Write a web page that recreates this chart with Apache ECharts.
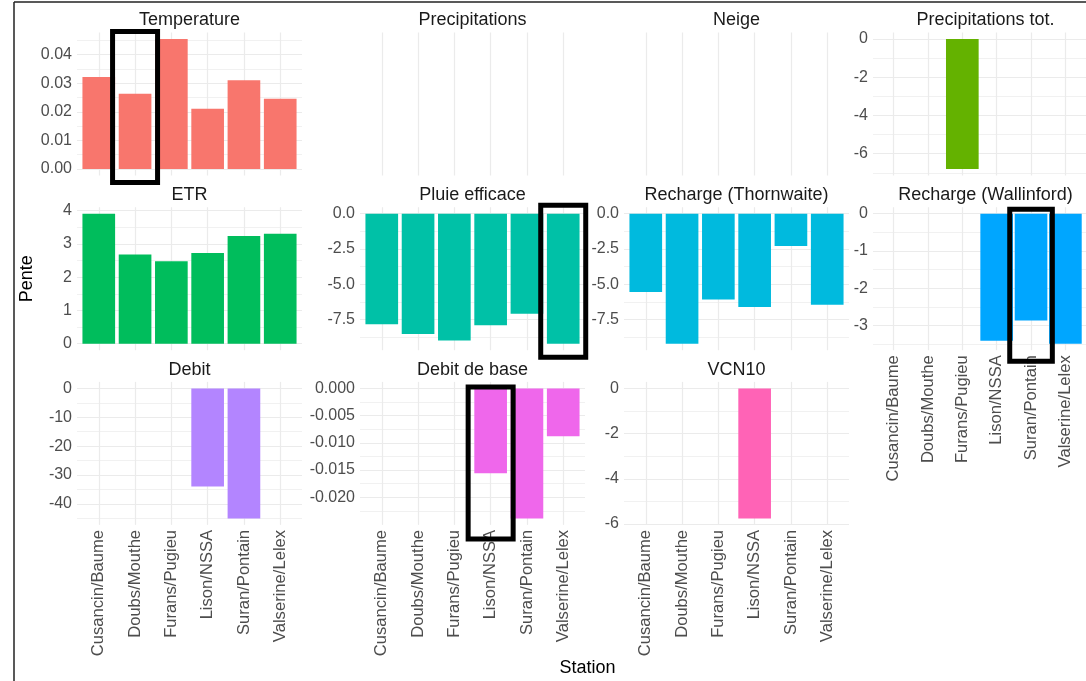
<!DOCTYPE html>
<html>
<head>
<meta charset="utf-8">
<script src="https://cdn.jsdelivr.net/npm/echarts@6/dist/echarts.min.js"></script>
<style>
  html, body { margin: 0; padding: 0; background: #ffffff; }
  #chart { width: 1086px; height: 681px; }
</style>
</head>
<body>
<div id="chart"></div>
<script>
// Stations (x categories, shared by every facet)
const stations = ['Cusancin/Baume', 'Doubs/Mouthe', 'Furans/Pugieu', 'Lison/NSSA', 'Suran/Pontain', 'Valserine/Lelex'];

// Trend slopes ("Pente") per variable and station; null = no significant trend
const temperature        = [0.0322, 0.0263, 0.0455, 0.0211, 0.0311, 0.0246];
const precipitations     = [null, null, null, null, null, null];
const neige              = [null, null, null, null, null, null];
const precipitationsTot  = [null, null, -6.8, null, null, null];
const etr                = [3.91, 2.68, 2.48, 2.73, 3.24, 3.31];
const pluieEfficace      = [-7.83, -8.52, -8.97, -7.90, -7.08, -9.20];
const rechargeThornwaite = [-5.55, -9.20, -6.07, -6.61, -2.29, -6.44];
const rechargeWallinford = [null, null, null, -3.41, -2.87, -3.49];
const debit              = [null, null, null, -34.0, -45.0, null];
const debitBase          = [null, null, null, -0.0156, -0.0239, -0.0088];
const vcn10              = [null, null, null, -5.75, null, null];

// Facet titles, in display order
const facetTitles = ['Temperature', 'Precipitations', 'Neige', 'Precipitations tot.',
  'ETR', 'Pluie efficace', 'Recharge (Thornwaite)', 'Recharge (Wallinford)',
  'Debit', 'Debit de base', 'VCN10'];
const facetValues = [temperature, precipitations, neige, precipitationsTot,
  etr, pluieEfficace, rechargeThornwaite, rechargeWallinford,
  debit, debitBase, vcn10];

// Y tick values per facet
const ticksTemperature = [0, 0.01, 0.02, 0.03, 0.04];
const ticksPrecipTot   = [0, -2, -4, -6];
const ticksEtr         = [0, 1, 2, 3, 4];
const ticksPluie       = [0, -2.5, -5, -7.5];
const ticksWallinford  = [0, -1, -2, -3];
const ticksDebit       = [0, -10, -20, -30, -40];
const ticksDebitBase   = [0, -0.005, -0.010, -0.015, -0.020];
const ticksVcn10       = [0, -2, -4, -6];
const facetTicks = [ticksTemperature, [], [], ticksPrecipTot,
  ticksEtr, ticksPluie, ticksPluie, ticksWallinford,
  ticksDebit, ticksDebitBase, ticksVcn10];
const facetDecimals = [2, 0, 0, 0, 0, 1, 1, 0, 0, 3, 0];

// Hue palette, one colour per variable
const facetColors = ['#F8766D', '#DB8E00', '#AEA200', '#64B200', '#00BD5C', '#00C1A7',
  '#00BADE', '#00A6FF', '#B385FF', '#EF67EB', '#FF63B6'];

// Boxes drawn around selected bars
const highlights = [
  { facet: 'Temperature', station: 'Doubs/Mouthe', padTop: -1, padBottom: 7 },
  { facet: 'Pluie efficace', station: 'Valserine/Lelex', padTop: -2, padBottom: 7 },
  { facet: 'Recharge (Wallinford)', station: 'Suran/Pontain', padTop: 2, padBottom: 11 },
  { facet: 'Debit de base', station: 'Lison/NSSA', padTop: 5, padBottom: 14 }
];

// ---- layout ----
const FONT = "'Liberation Sans', Arial, sans-serif";
const colLeft = [77, 360, 624, 873];
const rowTop = [32.5, 207.2, 381.9];
const PW = 225, PH = 143;
const X_EXPAND = 0.6;
const bandPx = PW / (stations.length - 1 + 2 * X_EXPAND);
const showXLabels = new Set(['Recharge (Wallinford)', 'Debit', 'Debit de base', 'VCN10']);
const gridColor = '#ebebeb';
const minorColor = '#f1f1f1';

const grids = [], xAxes = [], yAxes = [], minorYAxes = [], series = [], graphics = [];
const idx = stations.map((_, i) => i);

facetTitles.forEach((title, p) => {
  const col = p % 4, row = Math.floor(p / 4);
  const left = colLeft[col], top = rowTop[row];
  grids.push({ left: left, top: top, width: PW, height: PH, containLabel: false });

  const values = facetValues[p];
  const present = values.filter(v => v != null);
  let yMin = 0, yMax = 1;
  if (present.length) {
    const lo = Math.min(0, ...present), hi = Math.max(0, ...present);
    const pad = (hi - lo) * 0.05;
    yMin = lo - pad; yMax = hi + pad;
  }
  const ticks = facetTicks[p];
  const minors = [];
  if (ticks.length > 1) {
    const step = Math.abs(ticks[1] - ticks[0]);
    const sorted = ticks.slice().sort((a, b) => a - b);
    for (let k = -1; k < sorted.length; k++) {
      const m = (k < 0 ? sorted[0] - step : sorted[k]) + step / 2;
      if (m > yMin && m < yMax) minors.push(m);
    }
  }
  const dec = facetDecimals[p];

  xAxes.push({
    gridIndex: p, type: 'value', min: -X_EXPAND, max: stations.length - 1 + X_EXPAND,
    axisLine: { show: false },
    axisTick: { show: false, customValues: idx },
    axisLabel: {
      show: showXLabels.has(title), customValues: idx, rotate: 90, margin: 5,
      fontSize: 16.6, color: '#4d4d4d', fontFamily: FONT,
      formatter: v => stations[Math.round(v)]
    },
    splitLine: { show: true, lineStyle: { color: gridColor, width: 1.2 } }
  });

  yAxes.push({
    gridIndex: p, type: 'value', min: yMin, max: yMax,
    axisLine: { show: false },
    axisTick: { show: false, customValues: ticks },
    axisLabel: {
      show: ticks.length > 0, customValues: ticks, margin: 5,
      fontSize: 16, color: '#4d4d4d', fontFamily: FONT,
      formatter: v => (Math.abs(v) < 1e-12 ? 0 : v).toFixed(dec)
    },
    splitLine: { show: ticks.length > 0, lineStyle: { color: gridColor, width: 1.2 } }
  });
  minorYAxes.push({
    gridIndex: p, type: 'value', min: yMin, max: yMax,
    axisLine: { show: false },
    axisTick: { show: false, customValues: minors },
    axisLabel: { show: false, customValues: minors },
    splitLine: { show: minors.length > 0, lineStyle: { color: minorColor, width: 1 } }
  });

  series.push({
    type: 'bar', name: title, xAxisIndex: p, yAxisIndex: p,
    barWidth: 0.9 * bandPx,
    itemStyle: { color: facetColors[p] },
    silent: true,
    data: values.map((v, i) => (v == null ? null : [i, v])).filter(d => d)
  });

  // facet strip title
  graphics.push({
    type: 'text', x: left + PW / 2, y: top - 12, silent: true,
    style: { text: title, fontSize: 18, fill: '#1a1a1a', fontFamily: FONT, align: 'center', verticalAlign: 'middle' }
  });
});

// axis titles
graphics.push({
  type: 'text', x: 27, y: (rowTop[0] + rowTop[2] + PH) / 2, rotation: Math.PI / 2, silent: true,
  style: { text: 'Pente', fontSize: 18, fill: '#000', fontFamily: FONT, align: 'center', verticalAlign: 'middle' }
});
graphics.push({
  type: 'text', x: (colLeft[0] + colLeft[3] + PW) / 2, y: 668, silent: true,
  style: { text: 'Station', fontSize: 18, fill: '#000', fontFamily: FONT, align: 'center', verticalAlign: 'middle' }
});

// frame lines
graphics.push({ type: 'line', silent: true, shape: { x1: 14, y1: 2, x2: 14, y2: 681 }, style: { stroke: '#222', lineWidth: 1.5 } });
graphics.push({ type: 'line', silent: true, shape: { x1: 14, y1: 2, x2: 1086, y2: 2 }, style: { stroke: '#222', lineWidth: 1.5 } });

const chart = echarts.init(document.getElementById('chart'), null, { renderer: 'canvas' });
chart.setOption({
  animation: false,
  backgroundColor: '#ffffff',
  grid: grids,
  xAxis: xAxes,
  yAxis: yAxes.concat(minorYAxes),
  series: series
});

// boxes around highlighted bars, positioned through the facet's x scale
highlights.forEach(h => {
  const p = facetTitles.indexOf(h.facet);
  const i = stations.indexOf(h.station);
  const x1 = chart.convertToPixel({ xAxisIndex: p }, i - 0.62);
  const x2 = chart.convertToPixel({ xAxisIndex: p }, i + 0.62);
  const top = rowTop[Math.floor(p / 4)];
  graphics.push({
    type: 'rect', silent: true, z: 100,
    shape: { x: x1, y: top + h.padTop, width: x2 - x1, height: PH - h.padTop + h.padBottom },
    style: { fill: 'none', stroke: '#000', lineWidth: 5 }
  });
});

chart.setOption({ graphic: graphics });
</script>
</body>
</html>
